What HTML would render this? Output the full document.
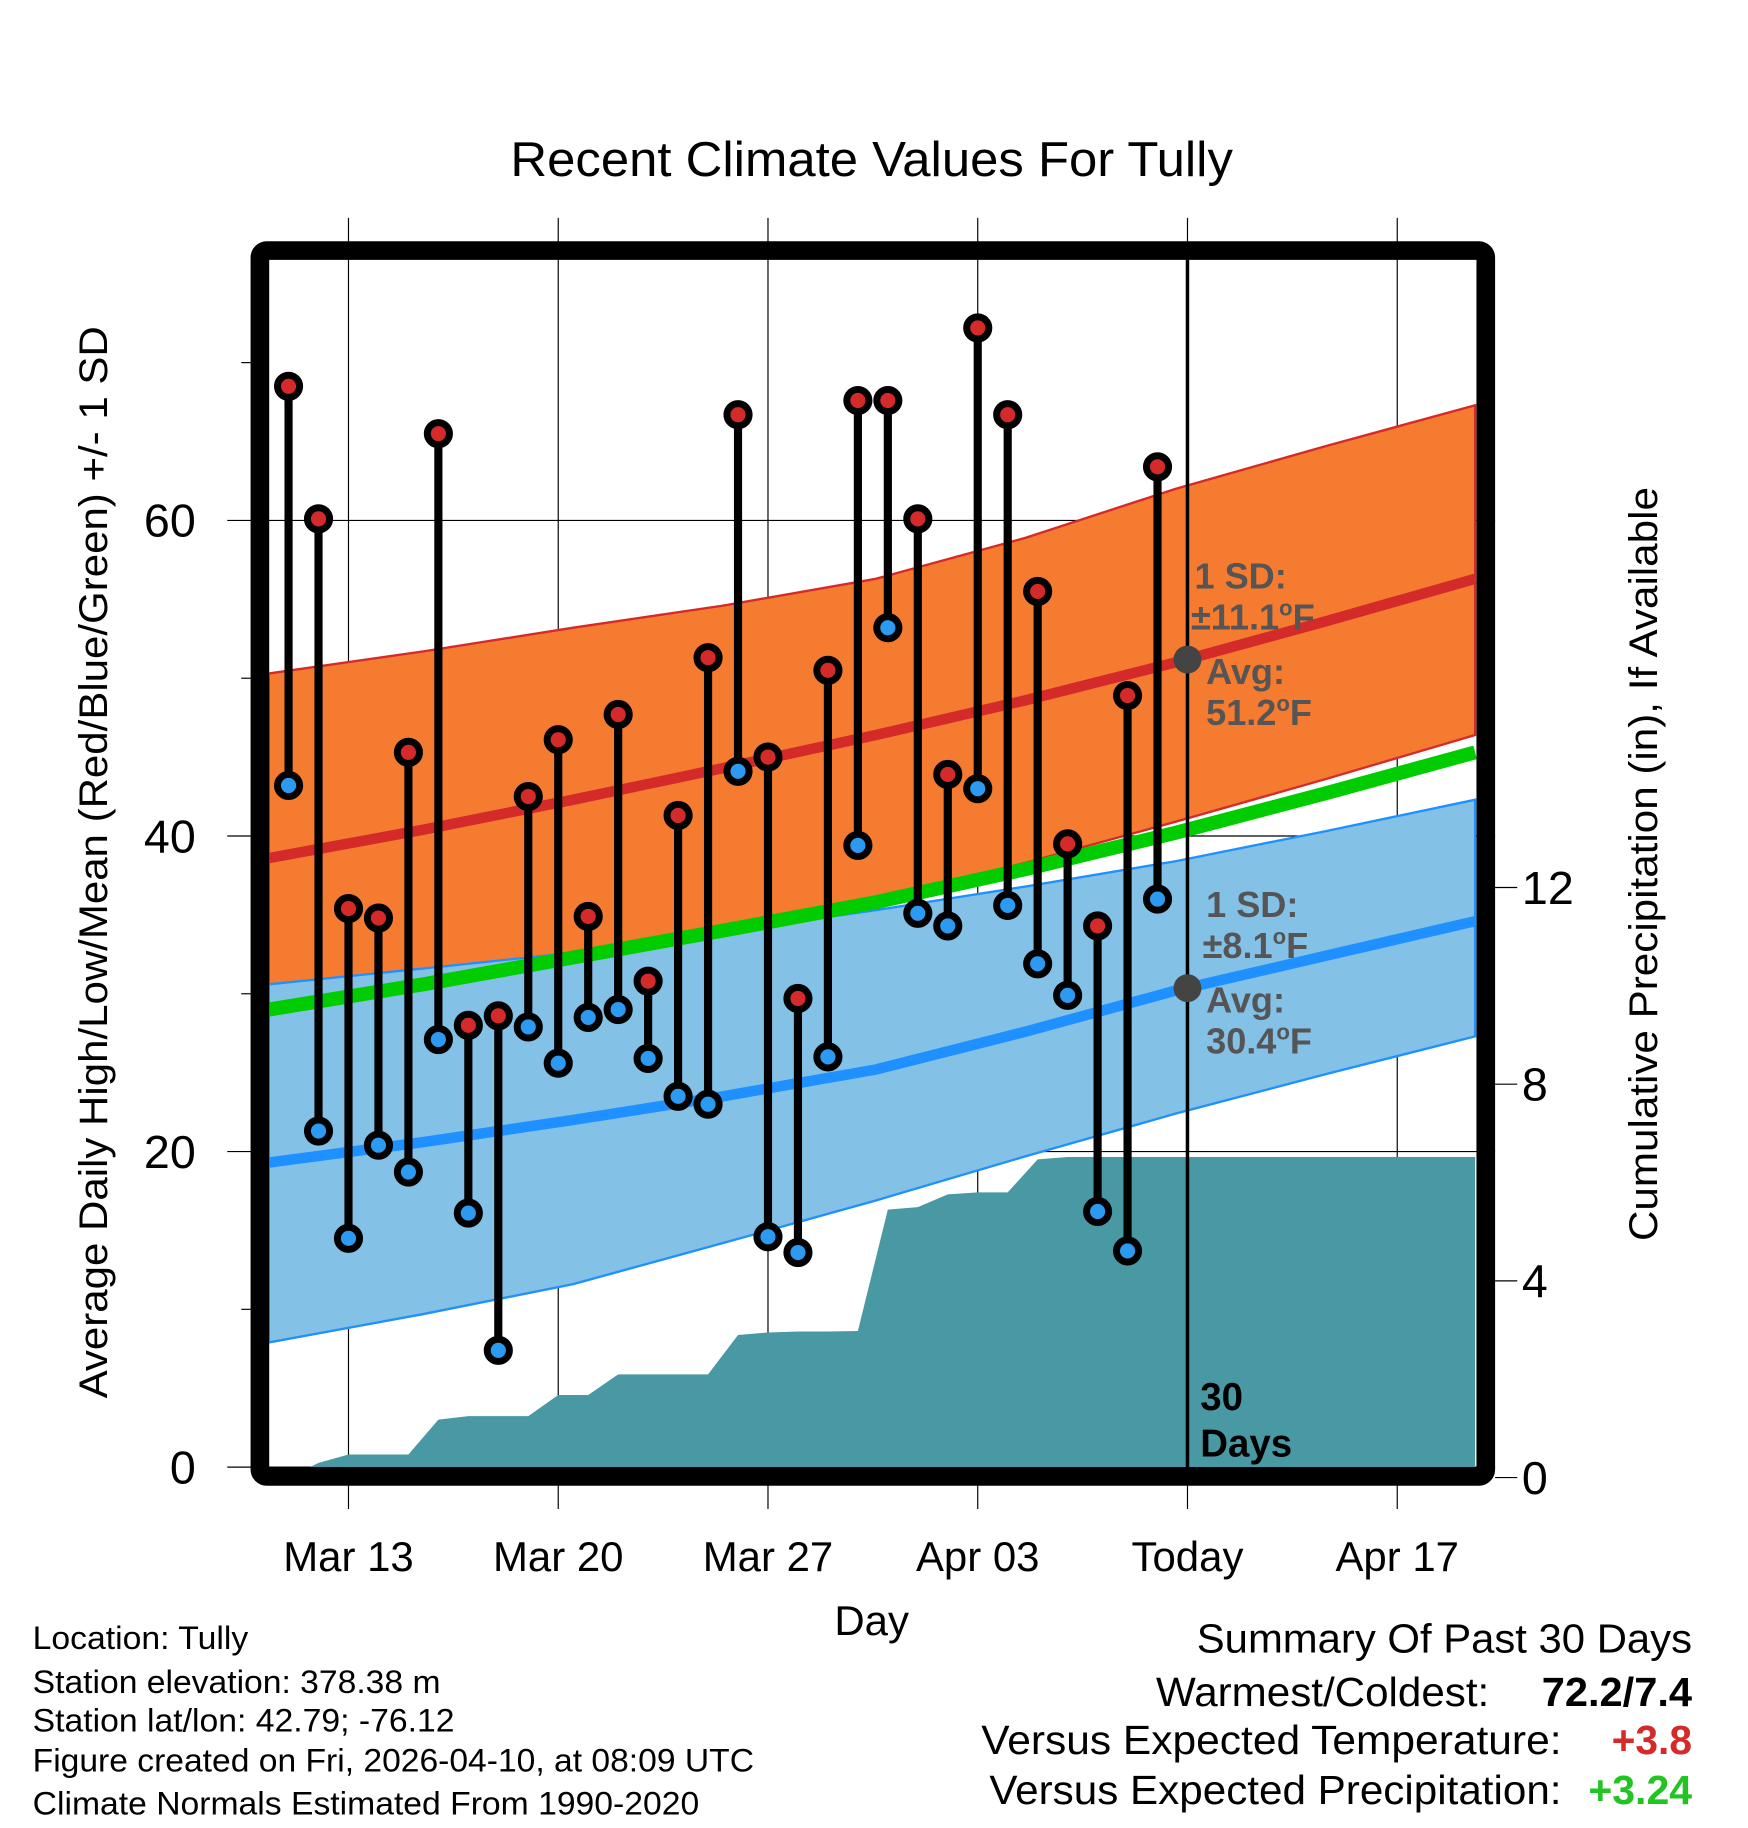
<!DOCTYPE html>
<html><head><meta charset="utf-8"><style>
html,body{margin:0;padding:0;background:#fff}
svg{display:block;font-family:"Liberation Sans",sans-serif}
</style></head><body>
<svg id="chart" width="1748" height="1828" viewBox="0 0 1500 1568.7" xmlns="http://www.w3.org/2000/svg">
<defs><clipPath id="plotclip"><rect x="231" y="223" width="1036" height="1036"/></clipPath></defs>
<g id="bg"></g>
<g id="grid"></g>
<g id="marks" clip-path="url(#plotclip)"></g>
<g id="stems"></g>
<rect x="223" y="215" width="1052" height="1052" rx="6" fill="none" stroke="#000" stroke-width="16"/>
<g id="axes"></g>
<text x="438" y="151" font-size="42" textLength="620" lengthAdjust="spacingAndGlyphs">Recent Climate Values For Tully</text>
<text transform="translate(92,1200) rotate(-90)" font-size="34" textLength="920" lengthAdjust="spacingAndGlyphs">Average Daily High/Low/Mean (Red/Blue/Green) +/- 1 SD</text>
<text transform="translate(1422,1065) rotate(-90)" font-size="34" textLength="647" lengthAdjust="spacingAndGlyphs">Cumulative Precipitation (in), If Available</text>
<text x="748" y="1403" font-size="36" text-anchor="middle">Day</text>
<g font-size="28">
<text x="28" y="1415" textLength="185" lengthAdjust="spacingAndGlyphs">Location: Tully</text>
<text x="28" y="1453" textLength="350" lengthAdjust="spacingAndGlyphs">Station elevation: 378.38 m</text>
<text x="28" y="1486" textLength="362" lengthAdjust="spacingAndGlyphs">Station lat/lon: 42.79; -76.12</text>
<text x="28" y="1520" textLength="619" lengthAdjust="spacingAndGlyphs">Figure created on Fri, 2026-04-10, at 08:09 UTC</text>
<text x="28" y="1557" textLength="572" lengthAdjust="spacingAndGlyphs">Climate Normals Estimated From 1990-2020</text>
</g>
<g font-size="35">
<text x="1027" y="1418" textLength="425" lengthAdjust="spacingAndGlyphs">Summary Of Past 30 Days</text>
<text x="992" y="1464" textLength="286" lengthAdjust="spacingAndGlyphs">Warmest/Coldest:</text>
<text x="1323" y="1464" font-weight="bold" textLength="129" lengthAdjust="spacingAndGlyphs">72.2/7.4</text>
<text x="842" y="1505" textLength="498" lengthAdjust="spacingAndGlyphs">Versus Expected Temperature:</text>
<text x="1383" y="1505" font-weight="bold" fill="#d42a2a" textLength="69" lengthAdjust="spacingAndGlyphs">+3.8</text>
<text x="849" y="1548" textLength="491" lengthAdjust="spacingAndGlyphs">Versus Expected Precipitation:</text>
<text x="1363" y="1548" font-weight="bold" fill="#22c422" textLength="89" lengthAdjust="spacingAndGlyphs">+3.24</text>
</g>
<g font-size="31" font-weight="bold" fill="#555">
<text x="1025" y="505">1 SD:</text>
<text x="1022" y="540">±11.1<tspan font-size="19" dy="-12">o</tspan><tspan dy="12">F</tspan></text>
<text x="1035" y="587">Avg:</text>
<text x="1035" y="622">51.2<tspan font-size="19" dy="-12">o</tspan><tspan dy="12">F</tspan></text>
</g>
<g font-size="31" font-weight="bold" fill="#555">
<text x="1035" y="787">1 SD:</text>
<text x="1032" y="822">±8.1<tspan font-size="19" dy="-12">o</tspan><tspan dy="12">F</tspan></text>
<text x="1035" y="869">Avg:</text>
<text x="1035" y="904">30.4<tspan font-size="19" dy="-12">o</tspan><tspan dy="12">F</tspan></text>
</g>
<line x1="1019" y1="223" x2="1019" y2="1259" stroke="#000" stroke-width="3"/>
<circle cx="1019" cy="566" r="12" fill="#444"/>
<circle cx="1019" cy="848" r="12" fill="#444"/>
<text x="1030" y="1210" font-size="33" font-weight="bold">30</text>
<text x="1030" y="1250" font-size="33" font-weight="bold">Days</text>
</svg>
<script>
// day index: 0 = Mar 11
const highs=[68.5,60.1,35.4,34.8,45.3,65.5,28.0,28.6,42.5,46.1,34.9,47.7,30.8,41.3,51.3,66.7,45.0,29.7,50.5,67.6,67.6,60.1,43.9,72.2,66.7,55.5,39.5,34.3,48.9,63.4];
const lows=[43.2,21.3,14.5,20.4,18.7,27.1,16.1,7.4,27.9,25.6,28.5,29.0,25.9,23.5,23.0,44.1,14.6,13.6,26.0,39.4,53.2,35.1,34.3,43.0,35.6,31.9,29.9,16.2,13.7,36.0];
const precip=[0,0.3,0.47,0.47,0.47,1.18,1.25,1.25,1.25,1.68,1.68,2.1,2.1,2.1,2.1,2.9,2.95,2.97,2.97,2.98,5.45,5.5,5.76,5.8,5.8,6.47,6.52,6.52,6.52,6.52];
const normDays=[-0.66,4.5,9.5,14.5,19.6,24.6,29.6,34.6,39.6];
const normHigh=[38.6,40.4,42.3,44.3,46.4,48.6,51.0,53.6,56.3];
const normHighUp=[50.3,51.7,53.2,54.6,56.3,58.9,62.0,64.7,67.3];
const normHighLo=[28.2,30.0,31.8,33.8,36.0,38.3,40.9,43.6,46.4];
const normMean=[29.0,30.6,32.3,34.0,35.8,37.9,40.2,42.7,45.3];
const normLow=[19.3,20.6,22.0,23.5,25.2,27.6,30.2,32.4,34.6];
const normLowUp=[30.6,31.6,32.6,33.9,35.3,36.8,38.4,40.3,42.3];
const normLowLo=[7.9,9.7,11.6,14.2,16.9,19.7,22.4,24.9,27.3];
const xTickDays=[2,9,16,23,30,37];
const xTickLabels=["Mar 13","Mar 20","Mar 27","Apr 03","Today","Apr 17"];
const yTicks=[0,20,40,60];
const y2Ticks=[0,4,8,12];

const X=d=>247.6+d*25.714;
const Y=v=>1259-v*13.54;
const Y2=p=>1268-p*42.2;
const NS="http://www.w3.org/2000/svg";
function mk(parent,tag,attrs){const e=document.createElementNS(NS,tag);for(const k in attrs)e.setAttribute(k,attrs[k]);document.getElementById(parent).appendChild(e);return e;}
const pts=(arr)=>normDays.map((d,i)=>X(d)+","+Y(arr[i]));

xTickDays.forEach((d,i)=>{
  const l=mk('grid','line',{x1:X(d),x2:X(d),y1:187,y2:1295,stroke:'#000','stroke-width':1});
  
  
  const t=mk('axes','text',{x:X(d),y:1348,'font-size':36,'text-anchor':'middle'});
  t.textContent=xTickLabels[i];
  
  
});
yTicks.forEach(v=>{
  const l=mk('grid','line',{x1:195,x2:1283,y1:Y(v),y2:Y(v),stroke:'#000','stroke-width':1});
  
  
  const t=mk('axes','text',{x:168,y:Y(v)+14,'font-size':40,'text-anchor':'end'});
  t.textContent=v;
  
  
});
[10,30,50,70].forEach(v=>{
  const l=mk('axes','line',{x1:207,x2:215,y1:Y(v),y2:Y(v),stroke:'#000','stroke-width':1});
  
  
});
y2Ticks.forEach(p=>{
  const l=mk('axes','line',{x1:1283,x2:1302,y1:Y2(p),y2:Y2(p),stroke:'#000','stroke-width':1});
  
  
  const t=mk('axes','text',{x:1306,y:Y2(p)+14,'font-size':40});
  t.textContent=p;
  
  
});

let p=mk('marks','polygon',{points:pts(normHighUp).concat(pts(normHighLo).reverse()).join(' '),fill:'#f47b30',stroke:'#d42a2a','stroke-width':2});


p=mk('marks','polygon',{points:pts(normLowUp).concat(pts(normLowLo).reverse()).join(' '),fill:'#84c1e7',stroke:'#1e90ff','stroke-width':2});


p=mk('marks','polyline',{points:pts(normMean).join(' '),fill:'none',stroke:'#00cc00','stroke-width':12});


p=mk('marks','polyline',{points:pts(normHigh).join(' '),fill:'none',stroke:'#d42a2a','stroke-width':9});


p=mk('marks','polyline',{points:pts(normLow).join(' '),fill:'none',stroke:'#1e90ff','stroke-width':9});



let pp=[X(-0.66)+','+Y2(0)];
precip.forEach((v,i)=>pp.push(X(i)+','+Y2(v)));
pp.push(X(39.6)+','+Y2(precip[precip.length-1]));
pp.push(X(39.6)+',1268');pp.push(X(-0.66)+',1268');
p=mk('marks','polygon',{points:pp.join(' '),fill:'#4899a3'});



highs.forEach((h,i)=>{
  const x=X(i);
  const s=mk('stems','line',{x1:x,x2:x,y1:Y(h),y2:Y(lows[i]),stroke:'#000','stroke-width':7});
  
  
  const ch=mk('stems','circle',{cx:x,cy:Y(h),r:9.5,fill:'#d42a2a',stroke:'#000','stroke-width':6});
  
  
  const cl=mk('stems','circle',{cx:x,cy:Y(lows[i]),r:9.5,fill:'#2b9af0',stroke:'#000','stroke-width':6});
  
  
});
</script>
</body></html>
